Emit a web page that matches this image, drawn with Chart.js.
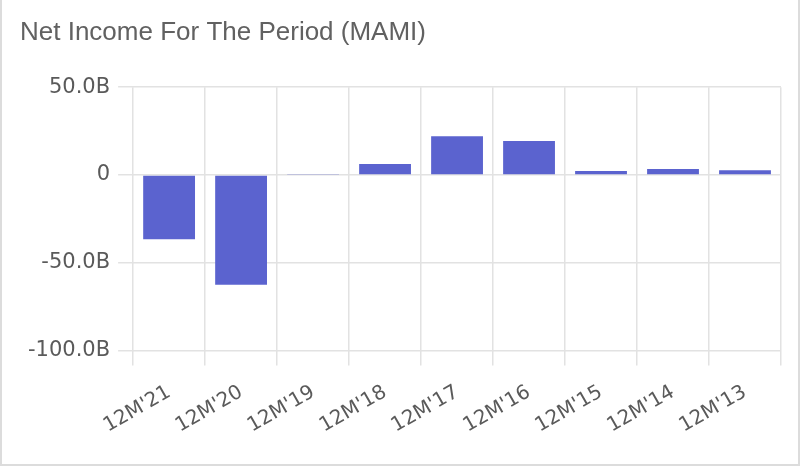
<!DOCTYPE html>
<html>
<head>
<meta charset="utf-8">
<script src="https://cdn.jsdelivr.net/npm/chart.js@4"></script>
<style>
  html, body { margin: 0; padding: 0; background: #fff; }
  #chart { position: absolute; left: 0; top: 0; }
  #card {
    position: absolute; left: 0; top: 0; width: 796px; height: 464px; pointer-events: none;
    border-left: 2px solid #dcdcdc; border-right: 2px solid #dcdcdc; border-bottom: 2px solid #dcdcdc;
  }
</style>
</head>
<body>
<canvas id="chart" width="800" height="466"></canvas>
<div id="card"></div>
<script>
const periods = ["12M'21", "12M'20", "12M'19", "12M'18", "12M'17", "12M'16", "12M'15", "12M'14", "12M'13"];
// net income, billions
const netIncome = [-36.7, -62.6, 0.5, 6.2, 22.0, 19.4, 2.3, 3.4, 2.7];
const yTicks = [-100, -50, 0, 50];

const titleFont = "'Liberation Sans', Arial, sans-serif";
const tickFont = "'DejaVu Sans', sans-serif";

new Chart(document.getElementById('chart'), {
  type: 'bar',
  data: {
    labels: periods,
    datasets: [{
      label: 'Net Income',
      data: netIncome,
      backgroundColor: '#5b63cf',
      borderWidth: 0
    }]
  },
  options: {
    responsive: false,
    animation: false,
    devicePixelRatio: 1,
    layout: { padding: { left: 20, right: 19, top: 0, bottom: 13 } },
    plugins: {
      legend: { display: false },
      tooltip: { enabled: false },
      title: {
        display: true,
        text: 'Net Income For The Period (MAMI)',
        align: 'start',
        color: '#616161',
        font: { family: titleFont, size: 26, weight: 'normal' },
        padding: { top: 17, bottom: 39 }
      }
    },
    scales: {
      x: {
        grid: { color: '#e2e2e2', lineWidth: 1.5, tickLength: 15, offset: true },
        border: { display: false },
        ticks: {
          color: '#5a5a5a',
          font: { family: tickFont, size: 20 },
          minRotation: 30,
          maxRotation: 30,
          padding: 15
        }
      },
      y: {
        min: -100,
        max: 50,
        afterBuildTicks: axis => { axis.ticks = yTicks.map(v => ({ value: v })); },
        grid: { color: '#e2e2e2', lineWidth: 1.5, tickLength: 15 },
        border: { display: false },
        ticks: {
          color: '#5a5a5a',
          font: { family: tickFont, size: 21 },
          padding: 8,
          callback: v => v === 0 ? '0' : v.toFixed(1) + 'B'
        }
      }
    }
  }
});
</script>
</body>
</html>
